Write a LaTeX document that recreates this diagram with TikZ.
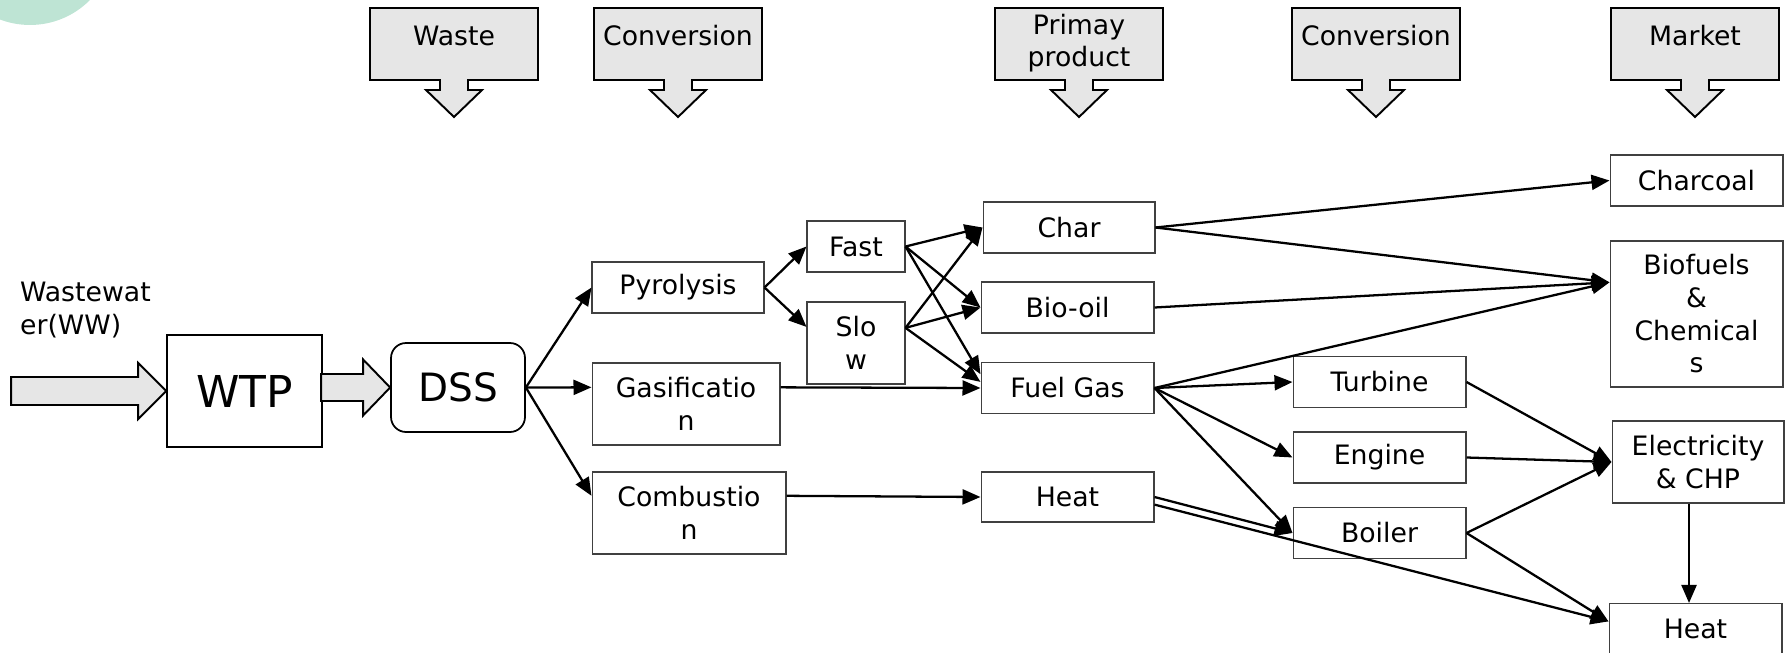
\documentclass[tikz,border=0pt]{standalone}
\usepackage{fontspec}
\setmainfont{DejaVu Sans}
\usetikzlibrary{arrows.meta}
\definecolor{headgray}{RGB}{230,230,230}
\definecolor{mint}{RGB}{190,228,212}
\tikzset{%
    every box/.style={
      rectangle,
      draw=black!75,
      line width=0.6pt,
      inner sep=2pt,
      align=center,
      minimum width=3.46cm,
      minimum height=1.02cm,
      font=\fontsize{15.2}{18.6}\selectfont
    },
    plant/.style={
      rectangle,
      draw,
      line width=1pt,
      font=\fontsize{25}{29}\selectfont
    },
    head text/.style={
      align=center,
      inner sep=0pt,
      font=\fontsize{15.2}{18.6}\selectfont
    },
    block arrow/.style={
      draw,
      fill=headgray,
      line width=1.1pt
    },
    headbox/.pic={
      \draw [block arrow] (-84,8) -- (84,8) -- (84,80) -- (14,80) -- (14,90) -- (28,90)
        -- (0,117) -- (-28,90) -- (-14,90) -- (-14,80) -- (-84,80) -- cycle;
    }
  }

\begin{document}
\begin{tikzpicture}[x=0.02cm, y=-0.02cm, >={Triangle[length=0.36cm,width=0.3cm]}, line width=1.3pt]
      \useasboundingbox (0,0) rectangle (1787,652);
      \fill [mint] (30,-59.5) circle (1.69cm);

      % stage headers
      \pic (wastehead) at (454,0) {headbox};
      \pic (convhead) at (678,0) {headbox};
      \pic (primhead) at (1079,0) {headbox};
      \pic (conv2head) at (1376,0) {headbox};
      \pic (markethead) at (1695,0) {headbox};
      \node [head text] (waste) at (454,36) {Waste};
      \node [head text] (conv) at (678,36) {Conversion};
      \node [head text] (prim) at (1079,43) {Primay\\product};
      \node [head text] (conv2) at (1376,36) {Conversion};
      \node [head text] (market) at (1695,36) {Market};

      \node [head text, align=left, anchor=west] (ww) at (19,310) {Wastewat\\er(WW)};
      \node [plant, minimum width=3.1cm, minimum height=2.24cm] (wtp) at (244.5,391) {WTP};
      \node [plant, rounded corners=0.3cm, minimum width=2.68cm, minimum height=1.78cm,
             font=\fontsize{22.2}{26}\selectfont] (dss) at (458,387.5) {DSS};

      \node [every box, minimum width=3.44cm] (pyro) at (678,287.5) {Pyrolysis};
      \node [every box, minimum width=3.76cm, minimum height=1.64cm] (gas) at (686,404) {Gasificatio\\n};
      \node [every box, minimum width=3.88cm, minimum height=1.64cm] (comb) at (689,513) {Combustio\\n};

      \node [every box, minimum width=1.96cm] (fast) at (856,246.5) {Fast};
      \node [every box, minimum width=1.96cm, minimum height=1.64cm] (slow) at (856,343) {Slo\\w};

      \node [every box, minimum width=3.44cm] (char) at (1069,227.5) {Char};
      \node [every box] (bio) at (1067.5,307.5) {Bio-oil};
      \node [every box] (fuel) at (1067.5,388) {Fuel Gas};
      \node [every box, minimum height=1cm] (heat) at (1067.5,497) {Heat};

      \node [every box] (turb) at (1379.5,382) {Turbine};
      \node [every box] (eng) at (1379.5,457.5) {Engine};
      \node [every box] (boil) at (1379.5,533) {Boiler};

      \node [every box] (charcoal) at (1696.5,180.5) {Charcoal};
      \node [every box, minimum height=2.92cm] (biof) at (1696.5,314) {Biofuels\\\&\\Chemical\\s};
      \node [every box, minimum width=3.44cm, minimum height=1.64cm] (elec) at (1698,462) {Electricity\\\& CHP};
      \node [every box] (hm) at (1695.5,629) {Heat};

      % block arrows
      \draw [block arrow] (wtp.west) -- ++(-28,-28) -- ++(0,14) -- ++(-127,0) -- ++(0,28)
        -- ++(127,0) -- ++(0,14) -- cycle;
      \draw [block arrow] (dss.west) -- ++(-27,-28) -- ++(0,14.5) -- ++(-42,0) -- ++(0,27)
        -- ++(42,0) -- ++(0,14.5) -- cycle;

      \draw [->] (dss.east) -- (pyro.west);
      \draw [->] (dss.east) -- (gas.170);
      \draw [->] (dss.east) -- (comb.170);

      \draw [->] (pyro.east) -- (fast.west);
      \draw [->] (pyro.east) -- (slow.162);

      \draw [->] (fast.east) -- (char.west);
      \draw [->] (fast.east) -- (bio.west);
      \draw [->] (fast.east) -- (fuel.171);
      \draw [->] (slow.17) -- (char.west);
      \draw [->] (slow.17) -- (bio.west);
      \draw [->] (slow.17) -- (fuel.176);
      \draw [->] (gas.10) -- (fuel.west);
      \draw [->] (comb.10) -- (heat.west);

      \draw [->] (char.east) -- (charcoal.west);
      \draw [->] (char.east) -- (biof.160);
      \draw [->] (bio.east) -- (biof.160);
      \draw [->] (fuel.east) -- (biof.160);
      \draw [->] (fuel.east) -- (turb.west);
      \draw [->] (fuel.east) -- (eng.west);
      \draw [->] (fuel.east) -- (boil.west);
      \draw [->] (heat.east) -- (boil.west);
      \draw [->] (heat.-5) -- (hm.175);

      \draw [->] (turb.east) -- (elec.west);
      \draw [->] (eng.east) -- (elec.west);
      \draw [->] (boil.east) -- (elec.west);
      \draw [->] (boil.east) -- (hm.175);
      \draw [->] ([xshift=-0.18cm]elec.south) -- ([xshift=-0.18cm]elec.south |- hm.north);
\end{tikzpicture}
\end{document}
